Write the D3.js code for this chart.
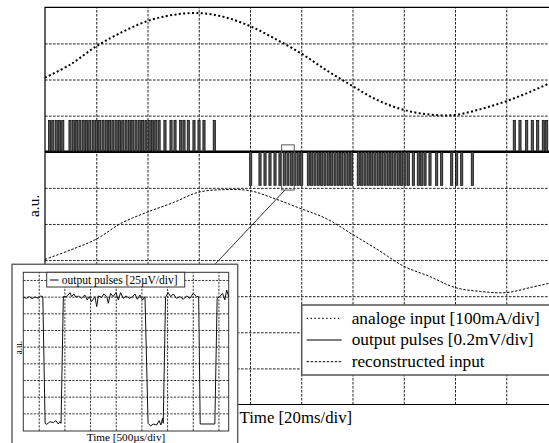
<!DOCTYPE html>
<html><head><meta charset="utf-8">
<script src="https://cdn.jsdelivr.net/npm/d3@7/dist/d3.min.js"></script>
<style>html,body{margin:0;padding:0;background:#fff;overflow:hidden}</style>
</head><body>
<svg id="c" width="549" height="443" xmlns="http://www.w3.org/2000/svg"></svg>
<script>
// ---------------- data (time in divisions of 20 ms, amplitude in divisions) ----------------
const timeSamples = [0,0.5,1,1.5,2,2.5,3,3.5,4,4.5,5,5.5,6,6.5,7,7.5,8,8.5,9,9.5,10,10.5];
const analogInput = [9.05,9.42,9.92,10.31,10.62,10.79,10.84,10.73,10.48,10.12,9.72,9.25,8.82,8.42,8.16,8.03,8.02,8.18,8.40,8.68,9.0,9.35];
const reconstructed = [4.02,4.28,4.58,5.03,5.33,5.59,5.88,5.95,5.92,5.69,5.42,5.14,4.71,4.28,3.83,3.55,3.24,3.13,3.10,3.25,3.42,3.70];

const pulseBase = 7.0, pulseHigh = 7.87, pulseLow = 6.07;
const positivePulses = [0.088,0.152,0.219,0.283,0.347,
  0.488,0.552,0.617,0.681,0.745,0.810,0.874,0.939,1.003,1.067,1.132,1.196,1.260,1.325,1.389,1.454,1.518,1.582,1.647,1.711,1.776,1.840,1.904,1.969,2.033,2.098,2.162,2.226,
  2.341,2.459,2.537,2.648,2.712,2.796,2.907,3.005,3.102,3.303,
  9.157,9.268,9.399,9.508,9.614,9.723,9.789];
const negativePulses = [4.014,4.195,4.293,4.390,4.488,4.585,4.669,4.741,4.814,4.878,4.943,5.009,
  5.138,5.204,5.268,5.333,5.399,5.463,5.528,5.594,5.659,5.723,5.789,5.854,5.918,5.984,
  6.113,6.180,6.244,6.308,6.375,6.439,6.503,6.570,6.634,6.698,6.765,6.829,6.894,6.960,7.024,7.089,
  7.187,7.284,7.350,7.415,7.512,7.643,7.740,7.936,8.033,8.131,8.338];

// inset: time in divisions of 500 us, amplitude in divisions of 25 uV
const insetT = [-0.6,-0.47,-0.37,-0.27,-0.14,-0.02,0.08,0.16,0.25,0.31,0.44,0.57,0.67,0.76,0.83,0.87,0.96,1.09,1.22,1.28,1.37,1.45,1.54,1.67,1.8,1.89,1.97,2.06,2.19,2.26,2.32,2.45,2.54,2.65,2.71,2.8,2.9,3.01,3.1,3.19,3.29,3.4,3.53,3.66,3.75,3.84,3.94,4.05,4.14,4.26,4.36,4.46,4.59,4.69,4.76,4.82,4.85,4.94,5.04,5.14,5.24,5.37,5.5,5.63,5.76,5.89,6.02,6.15,6.23,6.29,6.86,6.95,7.05,7.16,7.25,7.32,7.4];
const insetV = [7.96,7.9,8.0,7.88,7.98,7.9,8.04,8.0,0.4,0.34,0.5,0.44,0.56,0.36,0.5,0.4,8.0,8.0,8.24,8.0,8.16,7.96,8.04,7.9,8.1,7.8,8.0,7.7,8.0,7.4,8.04,7.96,8.16,8.0,7.6,8.2,8.0,8.24,7.8,8.24,7.9,8.04,7.9,8.0,8.16,7.84,8.1,7.8,8.0,0.4,0.24,0.36,0.3,0.56,0.3,0.7,0.4,7.96,8.24,8.0,8.16,7.9,8.0,7.84,8.04,7.9,8.2,8.0,8.0,0.36,0.36,7.9,8.0,8.2,7.8,8.4,8.0];

const xGrid = [1,2,3,4,5,6,7,8,9];
const yGrid = [1,2,3,4,5,6,7,8,9,10];
const insetXGrid = [0,1,2,3,4,5,6,7];
const insetYGrid = [1,2,3,4,5,6,7,8,9];
const zoomWindow = [4.617, 4.863];          // main-plot time span of the zoom box
const zoomLevels = [5.94, 7.19];            // main-plot amplitude span of the zoom box
const legendLabels = ["analoge input [100mA/div]", "output pulses [0.2mV/div]", "reconstructed input"];
const insetLegendLabel = "output pulses [25\u00b5V/div]";
const xLabel = "Time [20ms/div]", yLabel = "a.u.";
const insetXLabel = "Time [500\u00b5s/div]", insetYLabel = "a.u.";

// ---------------- drawing ----------------
const FONT = "'Liberation Serif','Times New Roman',Times,serif";
const svg = d3.select("#c");
const x = d3.scaleLinear().domain([0,10]).range([45,557.5]);
const y = d3.scaleLinear().domain([0,11]).range([404.5,7.3]);

function grid(g, axis, dash, w){
  g.call(axis);
  g.select(".domain").remove();
  g.selectAll(".tick line").attr("stroke","#222").attr("stroke-width",w).attr("stroke-dasharray",dash);
  g.selectAll(".tick text").remove();
}
const main = svg.append("g");
main.append("g").attr("transform",`translate(0,${y(0)})`)
  .call(g=>grid(g, d3.axisBottom(x).tickValues(xGrid).tickSize(-(y(0)-y(11))).tickFormat(""), "2.6,1.4", 1));
main.append("g").attr("transform",`translate(${x(0)},0)`)
  .call(g=>grid(g, d3.axisLeft(y).tickValues(yGrid).tickSize(-(x(10)-x(0))).tickFormat(""), "2.6,1.4", 1));

// frame
main.append("path").attr("d",`M${x(10)},${y(11)}H${x(0)}V${y(0)}H${x(10)}`)
  .attr("fill","none").attr("stroke","#000").attr("stroke-width",1.2);

// analog input
const lineMain = (vals)=> d3.line().curve(d3.curveCatmullRom).x((d,i)=>x(timeSamples[i])).y(d=>y(d))(vals);
main.append("path").attr("d",lineMain(analogInput)).attr("fill","none")
  .attr("stroke","#000").attr("stroke-width",2).attr("stroke-dasharray","2,2.4");
// reconstructed
main.append("path").attr("d",lineMain(reconstructed)).attr("fill","none")
  .attr("stroke","#000").attr("stroke-width",1).attr("stroke-dasharray","2.4,1.6");

// output pulses baseline
main.append("path").attr("d",d3.line()([[x(0),y(pulseBase)],[x(10),y(pulseBase)]]))
  .attr("stroke","#000").attr("stroke-width",2.4);
const pw = 2.2;
main.append("g").selectAll("rect").data(positivePulses).join("rect")
  .attr("x",d=>x(d)-pw/2).attr("y",y(pulseHigh)).attr("width",pw).attr("height",y(pulseBase)-y(pulseHigh))
  .attr("fill","#555").attr("stroke","#000").attr("stroke-width",0.7);
main.append("g").selectAll("rect").data(negativePulses).join("rect")
  .attr("x",d=>x(d)-pw/2).attr("y",y(pulseBase)).attr("width",pw).attr("height",y(pulseLow)-y(pulseBase))
  .attr("fill","#555").attr("stroke","#000").attr("stroke-width",0.7);

// zoom box
main.append("rect").attr("x",x(zoomWindow[0])).attr("y",y(zoomLevels[1]))
  .attr("width",x(zoomWindow[1])-x(zoomWindow[0])).attr("height",y(zoomLevels[0])-y(zoomLevels[1]))
  .attr("fill","none").attr("stroke","#555").attr("stroke-width",1);

// axis labels
svg.append("text").attr("x",239.5).attr("y",423).attr("font-family",FONT).attr("font-size",16.8).text(xLabel);
svg.append("text").attr("transform",`translate(38.5,${(y(0)+y(11))/2}) rotate(-90)`).attr("text-anchor","middle")
  .attr("font-family",FONT).attr("font-size",15.5).text(yLabel);

// legend
const lg = svg.append("g");
lg.append("rect").attr("x",301.7).attr("y",305).attr("width",270).attr("height",70)
  .attr("fill","#fff").attr("stroke","#555").attr("stroke-width",1.5);
const legendStyles = [
  {w:1.3, dash:"1.3,2.6"},
  {w:1.2, dash:null},
  {w:1, dash:"2.4,1.6"}
];
legendLabels.forEach((lab,i)=>{
  const cy = 318.3 + i*21.7;
  const l = lg.append("line").attr("x1",306.7).attr("x2",341.7).attr("y1",cy).attr("y2",cy)
    .attr("stroke","#000").attr("stroke-width",legendStyles[i].w);
  if (legendStyles[i].dash) l.attr("stroke-dasharray",legendStyles[i].dash);
  lg.append("text").attr("x",351.7).attr("y",cy+5.2).attr("font-family",FONT).attr("font-size",17.3).text(lab);
});

// connector line from zoom box to inset
svg.append("line").attr("x1",285).attr("y1",190).attr("x2",215).attr("y2",264.3)
  .attr("stroke","#333").attr("stroke-width",1);

// ---------------- inset ----------------
const ins = svg.append("g");
ins.append("rect").attr("x",12).attr("y",264.3).attr("width",225.7).attr("height",200)
  .attr("fill","#fff").attr("stroke","#666").attr("stroke-width",1.5);
const xi = d3.scaleLinear().domain([-0.6,7.4]).range([23.3,228.7]);
const yi = d3.scaleLinear().domain([-0.06,9.46]).range([431,272.3]);
ins.append("g").attr("transform",`translate(0,${yi(-0.06)})`)
  .call(g=>grid(g, d3.axisBottom(xi).tickValues(insetXGrid).tickSize(-(yi(-0.06)-yi(9.46))).tickFormat(""), "2.2,1.3", 0.9));
ins.append("g").attr("transform",`translate(${xi(-0.6)},0)`)
  .call(g=>grid(g, d3.axisLeft(yi).tickValues(insetYGrid).tickSize(-(xi(7.4)-xi(-0.6))).tickFormat(""), "2.2,1.3", 0.9));
ins.append("rect").attr("x",xi(-0.6)).attr("y",yi(9.46)).attr("width",xi(7.4)-xi(-0.6)).attr("height",yi(-0.06)-yi(9.46))
  .attr("fill","none").attr("stroke","#333").attr("stroke-width",1);
ins.append("path").attr("d",d3.line().x((d,i)=>xi(insetT[i])).y(d=>yi(d))(insetV))
  .attr("fill","none").attr("stroke","#111").attr("stroke-width",1);
// inset legend
ins.append("rect").attr("x",46.7).attr("y",272.3).attr("width",138).attr("height",14.7)
  .attr("fill","#fff").attr("stroke","#333").attr("stroke-width",1);
ins.append("line").attr("x1",50).attr("x2",58.5).attr("y1",280).attr("y2",280).attr("stroke","#000").attr("stroke-width",1);
ins.append("text").attr("x",61.7).attr("y",283.6).attr("font-family",FONT).attr("font-size",11.5).text(insetLegendLabel);
ins.append("text").attr("x",(xi(-0.6)+xi(7.4))/2).attr("y",441).attr("text-anchor","middle")
  .attr("font-family",FONT).attr("font-size",11.2).text(insetXLabel);
ins.append("text").attr("transform",`translate(22.3,${(yi(-0.06)+yi(9.46))/2-4}) rotate(-90)`).attr("text-anchor","middle")
  .attr("font-family",FONT).attr("font-size",9.5).text(insetYLabel);
</script>
</body></html>
